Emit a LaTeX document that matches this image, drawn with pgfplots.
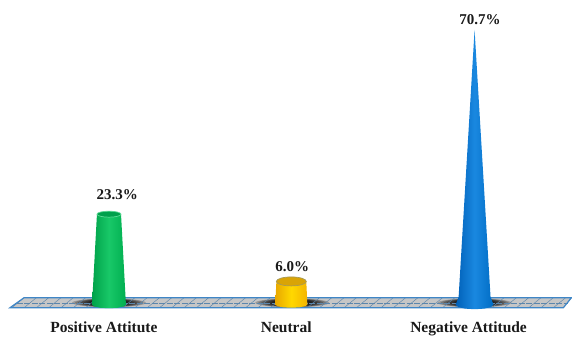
\documentclass[border=0pt]{standalone}
\usepackage{pgfplots}
\pgfplotsset{compat=1.18}
\usepackage{fontspec}
\setmainfont{Liberation Serif}
\definecolor{gridgray}{HTML}{C6C6C6}
\definecolor{edgeblue}{HTML}{3F86C6}
\definecolor{hatch}{HTML}{5C86AC}
\definecolor{gA}{HTML}{00A24A}\definecolor{gB}{HTML}{18C868}\definecolor{gC}{HTML}{00AE50}\definecolor{gT}{HTML}{00A04C}
\definecolor{yA}{HTML}{E8A800}\definecolor{yB}{HTML}{FFD800}\definecolor{yC}{HTML}{F4B400}\definecolor{yT}{HTML}{D9A406}
\definecolor{bA}{HTML}{0060B8}\definecolor{bB}{HTML}{1A88E0}\definecolor{bC}{HTML}{006CC4}
% elliptical plot marks for the top of each column
\pgfdeclareplotmark{capG}{\pgfpathellipse{\pgfpointorigin}{\pgfqpoint{12pt}{0pt}}{\pgfqpoint{0pt}{3pt}}\pgfusepathqfillstroke}
\pgfdeclareplotmark{capY}{\pgfpathellipse{\pgfpointorigin}{\pgfqpoint{15pt}{0pt}}{\pgfqpoint{0pt}{4.5pt}}\pgfusepathqfillstroke}
% contact shadow built from nested translucent ellipses, darkest near the column
\newcommand{\shadowring}[3]{\fill[black, fill opacity=0.22] (axis cs:#1,0.5) ellipse [x radius=#2pt, y radius=#3pt];}
\newcommand{\contactshadow}[1]{%
  \shadowring{#1}{37}{4.4}\shadowring{#1}{34}{4.2}\shadowring{#1}{31}{4.0}\shadowring{#1}{28}{3.9}%
  \shadowring{#1}{25}{3.8}\shadowring{#1}{22}{3.7}\shadowring{#1}{20}{3.6}}
\begin{document}
\begin{tikzpicture}
\begin{axis}[
  scale only axis, width=572pt, height=335pt,
  xmin=-0.6027, xmax=2.5315, ymin=-7.71, ymax=78.41,
  axis line style={draw=none}, ytick=\empty,
  xtick={0,1,2},
  xticklabels={Positive Attitute,Neutral,Negative Attitude},
  xtick style={draw=none},
  x tick label style={font=\bfseries\fontsize{15.5}{17}\selectfont, yshift=16pt, xshift=-6pt, text=black!90},
  clip=false,
]
% floor plate
\addplot[fill=gridgray, draw=none] coordinates
  {(-0.548,-0.77) (-0.471,1.8) (2.531,1.8) (2.487,-0.77)} -- cycle;
% contact shadows on the floor
\contactshadow{-0.005}
\contactshadow{1.0}
\contactshadow{2.0}
% floor hatching
\pgfplotsinvokeforeach{0,...,44}{
  \draw[hatch, line width=0.45pt]
    ({-0.538+0.0675*#1},-0.77) -- ({-0.471+0.0675*#1},1.8);
}
\draw[hatch, line width=0.45pt, dash pattern=on 6pt off 1.5pt]
  (axis cs:-0.51,0.45) -- (axis cs:2.51,0.45);
% floor outline
\addplot[draw=edgeblue, line width=1.2pt] coordinates
  {(-0.548,-0.77) (-0.471,1.8) (2.531,1.8) (2.487,-0.77)} -- cycle;
% columns, each with a rounded foot
\addplot[draw=none, left color=gA, right color=gC, middle color=gB] coordinates
  {(-0.071,23.3) (0.061,23.3) (0.088,0) (0.0755,-0.45) (0.0415,-0.78) (-0.005,-0.9)
   (-0.0515,-0.78) (-0.0855,-0.45) (-0.098,0)} -- cycle;
\addplot[only marks, mark=capG, mark options={fill=gT, draw=gB!70!white, line width=0.7pt}] coordinates {(-0.005,23.3)};
\addplot[draw=none, left color=yA, right color=yC, middle color=yB] coordinates
  {(0.913,6.0) (1.077,6.0) (1.083,0) (1.071,-0.385) (1.039,-0.667) (0.995,-0.77)
   (0.951,-0.667) (0.919,-0.385) (0.907,0)} -- cycle;
\addplot[only marks, mark=capY, mark options={fill=yT, draw=gray!70!yB, line width=0.7pt}] coordinates {(0.995,6.0)};
\addplot[draw=none, left color=bA, right color=bC, middle color=bB] coordinates
  {(2.0,70.7) (2.0875,2) (2.104,0) (2.09,-0.58) (2.052,-1.0) (2.0,-1.16)
   (1.948,-1.0) (1.91,-0.58) (1.896,0) (1.9125,2)} -- cycle;
% value labels
\begin{scope}[every node/.style={font=\bfseries\fontsize{15}{17}\selectfont, text=black!90}]
\node at (axis cs:0.04,28.3) {23.3\%};
\node at (axis cs:1.0,9.8) {6.0\%};
\node at (axis cs:2.03,73.3) {70.7\%};
\end{scope}
\end{axis}
\end{tikzpicture}
\end{document}
